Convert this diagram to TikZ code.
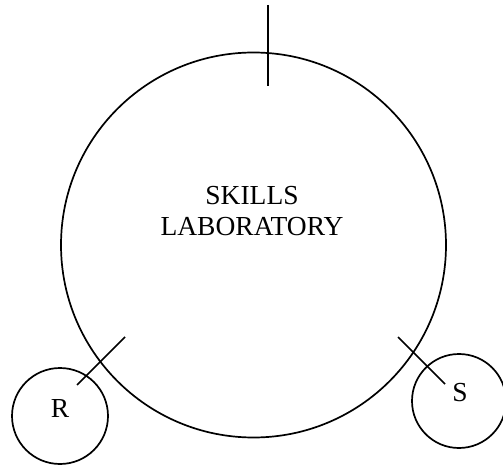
\documentclass[tikz,border=0pt]{standalone}
\usepackage{fontspec}
\setmainfont{Liberation Serif}
\begin{document}
\begin{tikzpicture}[x=1pt,y=1pt,
  ring/.style={draw=black,line width=1.7pt,circle,inner sep=0pt},
  tick/.style={draw=black,line width=1.7pt},
  lbl/.style={font=\fontsize{27.5}{31}\selectfont,inner sep=0pt,anchor=base}]
\useasboundingbox (0,0) rectangle (503,466);
\node[ring,minimum size=385pt] (lab) at (253.5,221) {};
\node[ring,minimum size=96pt] (r) at (60,50) {};
\node[ring,minimum size=94pt] (s) at (459,65) {};
\node[lbl] (t1) at (252,261) {SKILLS};
\node[lbl] (t2) at (252,230) {LABORATORY};
\node[lbl] (rt) at (60,49) {R};
\node[lbl] (st) at (460,65) {S};
\coordinate (topA) at (268,461);
\coordinate (topB) at (268,380);
\coordinate (rA) at (77,81);
\coordinate (rB) at (125,129);
\coordinate (sA) at (398,129);
\coordinate (sB) at (445,82);
\draw[tick] (topA) -- (topB);
\draw[tick] (rA) -- (rB);
\draw[tick] (sA) -- (sB);
\end{tikzpicture}
\end{document}
